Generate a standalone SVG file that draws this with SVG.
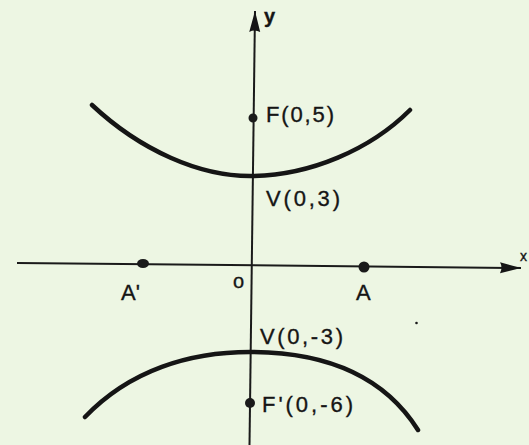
<svg xmlns="http://www.w3.org/2000/svg" width="529" height="445" viewBox="0 0 529 445">
  <style>
    .bg { fill: #edf6e3; }
    .axis { stroke: #1a1a1a; stroke-width: 2; fill: none; }
    .branch { stroke: #151515; stroke-width: 4.5; fill: none; stroke-linecap: round; }
    .dot { fill: #1a1a1a; }
    .lbl { font-family: "Liberation Sans", Arial, sans-serif; font-size: 22px; fill: #151515; stroke: #151515; stroke-width: 0.35; }
    .small { font-size: 20px; }
    .bold { font-weight: bold; }
  </style>
  <defs>
    <marker id="arrow" markerUnits="userSpaceOnUse" markerWidth="22" markerHeight="12" refX="21" refY="6" orient="auto">
      <path d="M0,0.5 L21,6 L0,11.5 Q3,6 0,0.5 Z" fill="#151515"/>
    </marker>
  </defs>
  <rect class="bg" x="0" y="0" width="529" height="445"/>

  <g id="connectors">
    <line id="x-axis" class="axis" x1="17" y1="263" x2="521" y2="268" marker-end="url(#arrow)"/>
    <line id="y-axis" class="axis" x1="249.5" y1="445" x2="255" y2="11" marker-end="url(#arrow)"/>
  </g>

  <g id="branch-upper">
    <path class="branch" d="M92,105 C140,150 200,177 253,176 C310,175 370,150 410,110"/>
  </g>
  <g id="branch-lower">
    <path class="branch" d="M85,417 C130,370 190,352 250,352 C320,352 382,373 418,430"/>
  </g>

  <g id="label-y">
    <text class="lbl small bold" x="264" y="23">y</text>
  </g>
  <g id="label-x">
    <text class="lbl" x="520" y="261" style="font-size:14px">x</text>
  </g>

  <g id="focus-F">
    <circle class="dot" cx="253" cy="118" r="4.5"/>
    <text class="lbl" x="266" y="122" textLength="68" lengthAdjust="spacing">F(0,5)</text>
  </g>
  <g id="vertex-V">
    <text class="lbl" x="266" y="206" textLength="74" lengthAdjust="spacing">V(0,3)</text>
  </g>
  <g id="point-A-prime">
    <ellipse class="dot" cx="143" cy="263.5" rx="6" ry="4.5"/>
    <text class="lbl" x="121" y="300">A'</text>
  </g>
  <g id="origin">
    <text class="lbl small" x="233" y="288">o</text>
  </g>
  <g id="point-A">
    <circle class="dot" cx="364" cy="267" r="5.5"/>
    <text class="lbl" x="356" y="300">A</text>
  </g>
  <g id="vertex-V-prime">
    <text class="lbl" x="260" y="344" textLength="83" lengthAdjust="spacing">V(0,-3)</text>
  </g>
  <g id="focus-F-prime">
    <circle class="dot" cx="250" cy="403" r="5"/>
    <text class="lbl" x="262" y="412" textLength="91" lengthAdjust="spacing">F'(0,-6)</text>
  </g>
  <circle class="dot" cx="416.5" cy="323" r="1.3"/>
</svg>
